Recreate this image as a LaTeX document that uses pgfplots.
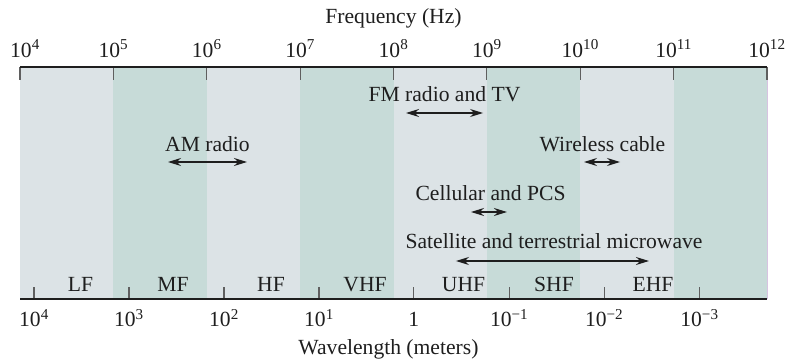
\documentclass[border=0pt]{standalone}
\usepackage{pgfplots}
\pgfplotsset{compat=1.18}
\usepackage{fontspec}
\setmainfont{Liberation Serif}
\usetikzlibrary{arrows.meta}
\definecolor{bandA}{RGB}{220,227,230}
\definecolor{bandB}{RGB}{199,219,216}
\definecolor{ink}{RGB}{30,30,30}
\definecolor{tickc}{RGB}{95,95,95}
\newcommand{\F}{\fontsize{21.6bp}{26bp}\selectfont}
\begin{document}
\begin{tikzpicture}[font=\F, >={Stealth[length=13bp,width=8bp]}]
\pgfplotsset{
  common/.style={
    scale only axis, width=747bp, height=232bp,
    xmin=0, xmax=8, ymin=0, ymax=232,
    axis y line=none, clip=false,
    tick align=inside,
    major tick style={line width=1.2bp, color=tickc},
    /pgf/number format/assume math mode=true,
    every tick label/.append style={font=\F, text=ink, inner sep=0pt},
  },
  lines/.style={
    every outer x axis line/.append style={-, line width=1.5bp, color=ink},
    every inner x axis line/.append style={-, line width=1.5bp, color=ink},
    x axis line style={-, line width=1.5bp, color=ink},
  }
}
% top (frequency) axis with the bands
\begin{axis}[common, axis on top,
  axis x line*=top, lines,
  major tick length=13bp,
  xtick={0,1,2,3,4,5,6,7,8},
  xticklabels={\hspace*{10bp}10\textsuperscript{4},10\textsuperscript{5},10\textsuperscript{6},10\textsuperscript{7},10\textsuperscript{8},10\textsuperscript{9},10\textsuperscript{10},10\textsuperscript{11},10\textsuperscript{12}},
  xticklabel style={anchor=base, yshift=9.5bp},
]
% light bands
\addplot[fill=bandA, draw=none] coordinates {(0,0) (0,232) (1,232) (1,0)};
\addplot[fill=bandA, draw=none] coordinates {(2,0) (2,232) (3,232) (3,0)};
\addplot[fill=bandA, draw=none] coordinates {(4,0) (4,232) (5,232) (5,0)};
\addplot[fill=bandA, draw=none] coordinates {(6,0) (6,232) (7,232) (7,0)};
% green bands
\addplot[fill=bandB, draw=none] coordinates {(1,0) (1,232) (2,232) (2,0)};
\addplot[fill=bandB, draw=none] coordinates {(3,0) (3,232) (4,232) (4,0)};
\addplot[fill=bandB, draw=none] coordinates {(5,0) (5,232) (6,232) (6,0)};
\addplot[fill=bandB, draw=none] coordinates {(7,0) (7,232) (8,232) (8,0)};
\addplot[draw={rgb,255:red,215;green,195;blue,225}, line width=0.8bp] coordinates {(8,0) (8,232)};
% band names
\node[anchor=base, text=ink] at (axis cs:0.648,8) {LF};
\node[anchor=base, text=ink] at (axis cs:1.639,8) {MF};
\node[anchor=base, text=ink] at (axis cs:2.688,8) {HF};
\node[anchor=base, text=ink] at (axis cs:3.695,8) {VHF};
\node[anchor=base, text=ink] at (axis cs:4.750,8) {UHF};
\node[anchor=base, text=ink] at (axis cs:5.719,8) {SHF};
\node[anchor=base, text=ink] at (axis cs:6.779,8) {EHF};
% services
\node[anchor=base, text=ink] at (axis cs:4.546,197) {FM radio and TV};
\addplot[<->, ink, line width=1.4bp] coordinates {(4.134,186) (4.959,186)};
\node[anchor=base, text=ink] at (axis cs:2.008,147) {AM radio};
\addplot[<->, ink, line width=1.4bp] coordinates {(1.585,137) (2.431,137)};
\node[anchor=base, text=ink] at (axis cs:6.238,147) {Wireless cable};
\addplot[<->, ink, line width=1.4bp] coordinates {(6.040,137) (6.426,137)};
\node[anchor=base, text=ink] at (axis cs:5.039,98) {Cellular and PCS};
\addplot[<->, ink, line width=1.4bp] coordinates {(4.830,87) (5.215,87)};
\node[anchor=base, text=ink] at (axis cs:5.719,50) {Satellite and terrestrial microwave};
\addplot[<->, ink, line width=1.4bp] coordinates {(4.669,38) (6.736,38)};
% axis titles
\node[anchor=base, text=ink] at (axis cs:4.0,275.5) {Frequency (Hz)};
\node[anchor=base, text=ink] at (axis cs:3.946,-55) {Wavelength (meters)};
\end{axis}
% bottom (wavelength) axis
\begin{axis}[common,
  axis x line*=bottom, lines,
  major tick length=12bp,
  xtick={0.150,1.167,2.185,3.202,4.216,5.239,6.256,7.277},
  xticklabels={10\textsuperscript{4},10\textsuperscript{3},10\textsuperscript{2},10\textsuperscript{1},1,10\textsuperscript{−1},10\textsuperscript{−2},10\textsuperscript{−3}},
  xticklabel style={anchor=base, yshift=-27.5bp},
]
\end{axis}
\pgfresetboundingbox
\useasboundingbox (-20bp,-61bp) rectangle (766bp,299bp);
\end{tikzpicture}
\end{document}
